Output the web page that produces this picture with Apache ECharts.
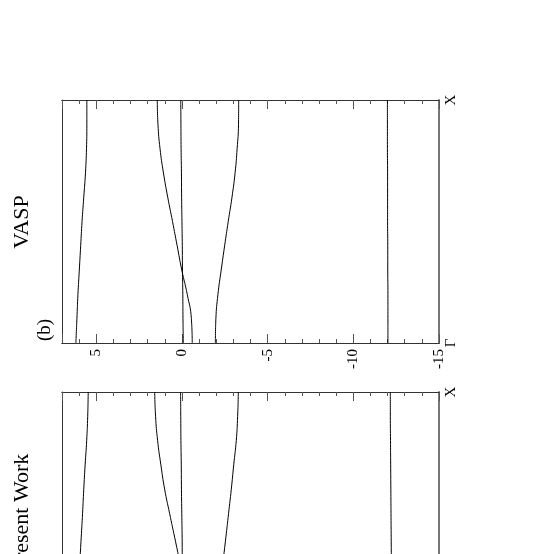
<!DOCTYPE html>
<html>
<head>
<meta charset="utf-8">
<script src="https://cdn.jsdelivr.net/npm/echarts@6/dist/echarts.min.js"></script>
<style>
html, body { margin: 0; padding: 0; background: #fff; }
#main { width: 535px; height: 554px; }
</style>
</head>
<body>
<div id="main"></div>
<script>
// k path from Gamma (0) to X (1)
var kPts = [0, 0.1, 0.2, 0.3, 0.4, 0.5, 0.6, 0.7, 0.8, 0.9, 1.0];

// (b) VASP bands, energies in eV
var vaspBand1 = [6.19, 6.13, 6.07, 5.99, 5.91, 5.83, 5.73, 5.63, 5.57, 5.55, 5.55];
var vaspBand2 = [-0.08, -0.06, -0.05, -0.03, -0.02, 0.0, 0.02, 0.03, 0.05, 0.06, 0.07];
var vaspBand3 = [-0.60, -0.55, -0.31, 0.01, 0.28, 0.55, 0.83, 1.08, 1.28, 1.40, 1.44];
var vaspBand4 = [-1.95, -1.98, -2.10, -2.29, -2.49, -2.70, -2.92, -3.10, -3.22, -3.30, -3.31];
var vaspBand5 = [-12.02, -12.02, -12.02, -12.01, -12.01, -12.0, -12.0, -12.0, -11.99, -11.99, -11.99];

// (a) Present Work bands
var workBand1 = [6.13, 6.10, 6.04, 5.96, 5.88, 5.80, 5.73, 5.65, 5.56, 5.50, 5.47];
var workBand2 = [-0.06, -0.05, -0.04, -0.02, -0.01, 0.01, 0.03, 0.04, 0.06, 0.07, 0.08];
var workBand3 = [-0.62, -0.50, -0.20, 0.12, 0.42, 0.72, 1.01, 1.23, 1.42, 1.54, 1.59];
var workBand4 = [-1.95, -2.02, -2.20, -2.39, -2.56, -2.72, -2.88, -3.02, -3.17, -3.25, -3.29];
var workBand5 = [-12.25, -12.24, -12.23, -12.22, -12.21, -12.20, -12.19, -12.18, -12.17, -12.16, -12.16];

var eMin = -15, eMax = 7;
var kLabels = { 0: 'Γ', 1: 'X' };

var font = 'Liberation Serif';

function eAxis(grid, pos, step, len, labels) {
    return {
        type: 'value',
        gridIndex: grid,
        position: pos,
        min: eMin,
        max: eMax,
        interval: step,
        inverse: true,
        axisLine: { show: true, onZero: false, lineStyle: { color: '#333', width: 1 } },
        axisTick: { show: true, inside: true, length: len, lineStyle: { color: '#555', width: 1 } },
        axisLabel: {
            show: labels,
            rotate: 90,
            margin: 6,
            fontSize: 15,
            color: '#000',
            fontFamily: font,
            formatter: function (v) { return v === eMax ? '' : v; }
        },
        splitLine: { show: false }
    };
}

function kAxes(grid) {
    return [{
        type: 'value', gridIndex: grid, position: 'left', min: 0, max: 1,
        axisLine: { show: true, onZero: false, lineStyle: { color: '#333', width: 1 } },
        axisTick: { show: false }, axisLabel: { show: false }, splitLine: { show: false }
    }, {
        type: 'value', gridIndex: grid, position: 'right', min: 0, max: 1, interval: 1,
        axisLine: { show: true, onZero: false, lineStyle: { color: '#777', width: 2 } },
        axisTick: { show: false },
        axisLabel: {
            rotate: 90, margin: 5, fontSize: 15, color: '#000', fontFamily: font,
            formatter: function (v) { return kLabels[v]; }
        },
        splitLine: { show: false }
    }];
}

function band(vals, grid) {
    return {
        type: 'line',
        xAxisIndex: grid * 4,
        yAxisIndex: grid * 2 + 1,
        data: kPts.map(function (k, i) { return [vals[i], k]; }),
        smooth: true,
        symbol: 'none',
        silent: true,
        lineStyle: { color: '#000', width: 1 }
    };
}

var xAxes = [], yAxes = [];
[0, 1].forEach(function (g) {
    xAxes.push(eAxis(g, 'bottom', 1, 4, false));
    xAxes.push(eAxis(g, 'bottom', 5, 9, g === 0));
    xAxes.push(eAxis(g, 'top', 1, 4, false));
    xAxes.push(eAxis(g, 'top', 5, 9, false));
    yAxes = yAxes.concat(kAxes(g));
});

var series = [];
[vaspBand1, vaspBand2, vaspBand3, vaspBand4, vaspBand5].forEach(function (b) { series.push(band(b, 0)); });
[workBand1, workBand2, workBand3, workBand4, workBand5].forEach(function (b) { series.push(band(b, 1)); });

var option = {
    animation: false,
    backgroundColor: '#fff',
    grid: [
        { left: 62, top: 100, width: 377, height: 243, outerBoundsMode: 'none' },
        { left: 62, top: 392, width: 377, height: 243, outerBoundsMode: 'none' }
    ],
    xAxis: xAxes,
    yAxis: yAxes,
    graphic: [
        { type: 'text', x: 22, y: 222, rotation: Math.PI / 2,
          style: { text: 'VASP', font: '22px "Liberation Serif"', fill: '#000', textAlign: 'center', textVerticalAlign: 'middle' } },
        { type: 'text', x: 45, y: 330, rotation: Math.PI / 2,
          style: { text: '(b)', font: '19px "Liberation Serif"', fill: '#000', textAlign: 'center', textVerticalAlign: 'middle' } },
        { type: 'text', x: 22, y: 513, rotation: Math.PI / 2,
          style: { text: 'Present Work', font: '22px "Liberation Serif"', fill: '#000', textAlign: 'center', textVerticalAlign: 'middle' } }
    ],
    series: series
};

var myChart = echarts.init(document.getElementById('main'));
myChart.setOption(option);
</script>
</body>
</html>
